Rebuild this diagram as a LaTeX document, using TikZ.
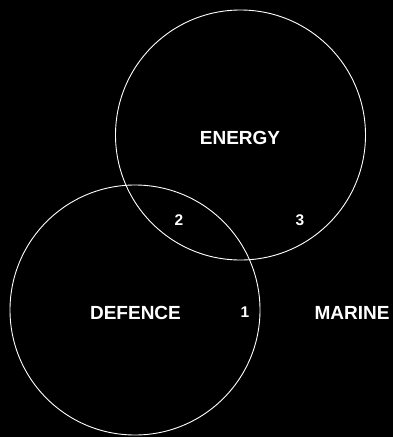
\documentclass[tikz,border=0pt]{standalone}
\usepackage{fontspec}
\setmainfont{Liberation Sans}
\begin{document}
\begin{tikzpicture}[x=1pt,y=-1pt,
  ring/.style={draw=white,line width=0.9pt},
  lbl/.style={text=white,font=\fontsize{19}{22}\selectfont\bfseries,inner sep=0pt,anchor=center},
  num/.style={text=white,font=\fontsize{15.5}{19}\selectfont\bfseries,inner sep=0pt,anchor=center}]
\fill[black] (0,0) rectangle (393,437);
\useasboundingbox (0,0) rectangle (393,437);
\node[ring,circle,minimum size=250pt,inner sep=0pt] (energyc) at (240.5,135) {};
\node[ring,circle,minimum size=250pt,inner sep=0pt] (defencec) at (135,310) {};
\node[lbl] (energy) at (240,138) {ENERGY};
\node[lbl] (defence) at (135.5,313) {DEFENCE};
\node[lbl] (marine) at (352,313) {MARINE};
\node[num] (n1) at (245,312) {1};
\node[num] (n2) at (179,220) {2};
\node[num] (n3) at (300,220) {3};
\end{tikzpicture}
\end{document}
